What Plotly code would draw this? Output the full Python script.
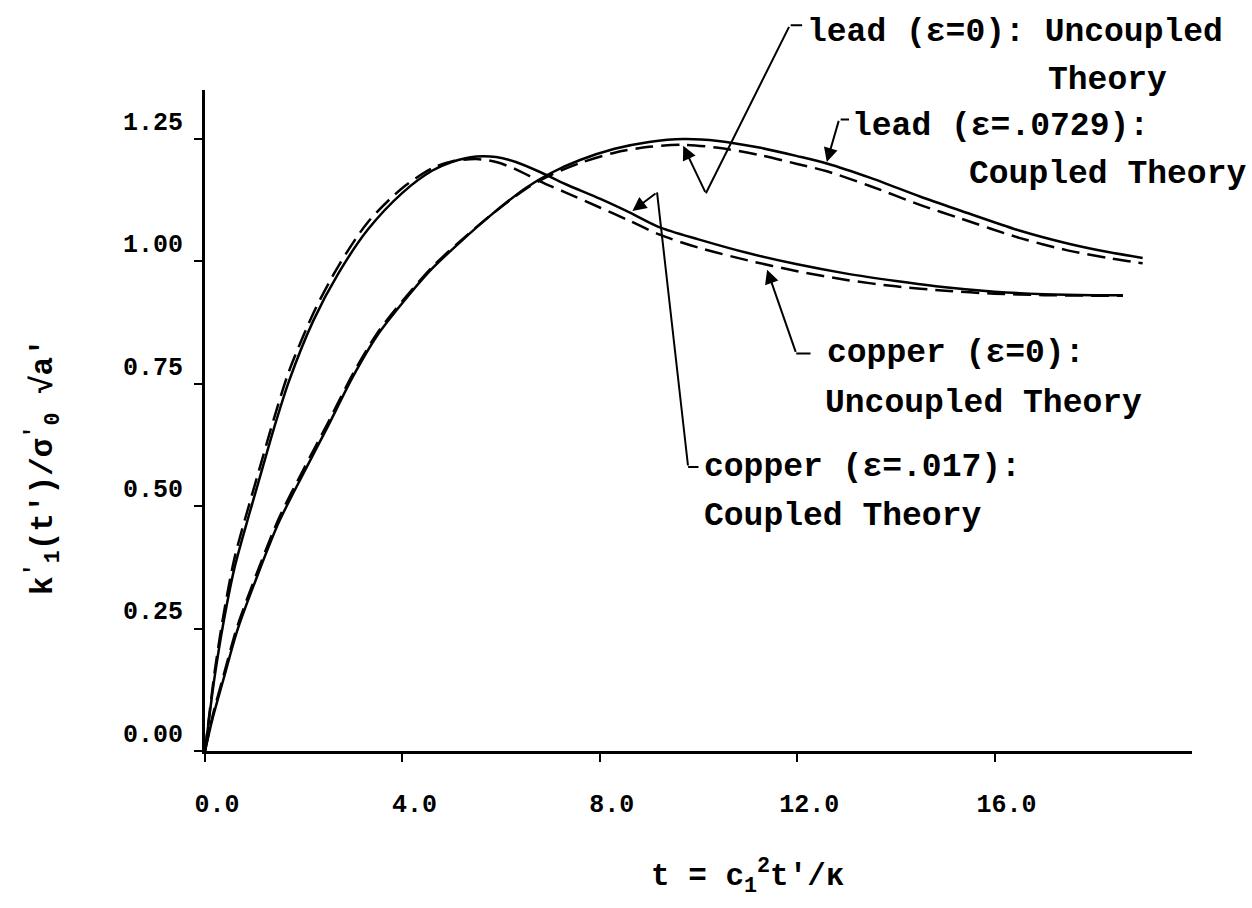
import plotly.graph_objects as go

# Dimensionless time t = c1^2 t'/kappa
copper_t = [0, 0.1, 0.2, 0.37, 0.6, 0.9, 1.1, 1.4, 1.7, 2.2, 2.7, 3.3, 4.0, 4.6,
            5.0, 5.5, 5.9, 6.3, 6.8, 7.3, 8.0, 8.6, 9.2, 10, 11, 12, 13, 14, 15,
            16, 17, 18, 18.6]
# copper, coupled theory (eps = .017)
copper_coupled = [0, 0.08, 0.155, 0.26, 0.375, 0.485, 0.555, 0.66, 0.755, 0.88,
                  0.975, 1.065, 1.14, 1.185, 1.203, 1.214, 1.213, 1.203, 1.182,
                  1.158, 1.128, 1.10, 1.07, 1.045, 1.017, 0.994, 0.975, 0.96,
                  0.947, 0.938, 0.933, 0.931, 0.931]
# copper, uncoupled theory (eps = 0)
copper_uncoupled = [0, 0.085, 0.165, 0.275, 0.395, 0.505, 0.575, 0.68, 0.775,
                    0.895, 0.99, 1.08, 1.15, 1.19, 1.204, 1.209, 1.203, 1.188,
                    1.163, 1.141, 1.11, 1.083, 1.055, 1.028, 1.002, 0.98, 0.962,
                    0.949, 0.94, 0.934, 0.931, 0.93, 0.93]

lead_t = [0, 0.15, 0.37, 0.65, 1.05, 1.5, 2.0, 2.5, 3.0, 3.5, 4.0, 4.6, 5.2, 5.8,
          6.5, 7.0, 7.6, 8.3, 9.0, 9.7, 10.4, 11.2, 12.0, 12.6, 13.5, 14.5, 15.3,
          16.5, 17.5, 18.3, 19.0]
# lead, coupled theory (eps = .0729)
lead_coupled = [0, 0.065, 0.145, 0.245, 0.355, 0.468, 0.568, 0.665, 0.765, 0.85,
                0.915, 0.985, 1.042, 1.095, 1.15, 1.18, 1.207, 1.23, 1.244, 1.25,
                1.246, 1.233, 1.215, 1.2, 1.17, 1.132, 1.104, 1.063, 1.036, 1.019,
                1.007]
# lead, uncoupled theory (eps = 0)
lead_uncoupled = [0, 0.07, 0.152, 0.253, 0.363, 0.476, 0.576, 0.672, 0.771, 0.855,
                  0.919, 0.988, 1.044, 1.095, 1.148, 1.176, 1.201, 1.222, 1.234,
                  1.238, 1.232, 1.218, 1.199, 1.184, 1.153, 1.115, 1.088, 1.048,
                  1.022, 1.007, 0.996]

x_tickvals = [0, 4, 8, 12, 16]
x_ticktext = ["0.0", "4.0", "8.0", "12.0", "16.0"]
y_tickvals = [0, 0.25, 0.5, 0.75, 1.0, 1.25]
y_ticktext = ["0.00", "0.25", "0.50", "0.75", "1.00", "1.25"]

Y_MAX = 1.35
MONO = "Liberation Mono, DejaVu Sans Mono, monospace"
INK = "#000000"
LW = 2.5
DASH = "18px,8px"

fig = go.Figure()
series = [
    (copper_t, copper_coupled, "solid", "copper (ε=.017): Coupled Theory"),
    (copper_t, copper_uncoupled, DASH, "copper (ε=0): Uncoupled Theory"),
    (lead_t, lead_coupled, "solid", "lead (ε=.0729): Coupled Theory"),
    (lead_t, lead_uncoupled, DASH, "lead (ε=0): Uncoupled Theory"),
]
for xs, ys, dash, name in series:
    fig.add_trace(go.Scatter(
        x=xs, y=ys, mode="lines", name=name,
        line=dict(color=INK, width=LW, dash=dash, shape="spline", smoothing=0.8),
        showlegend=False, hoverinfo="skip",
    ))


def y_ref(v):
    """Values above the axis range are placed in paper units so they still show."""
    if v > Y_MAX:
        return v / Y_MAX, "paper"
    return v, "y"


# Curve labels: (text, left-edge t, centre value)
labels = [
    ("lead (ε=0): Uncoupled", 12.15, 1.467),
    ("Theory", 17.04, 1.369),
    ("lead (ε=.0729):", 13.06, 1.276),
    ("Coupled Theory", 15.44, 1.178),
    ("copper (ε=0):", 12.56, 0.812),
    ("Uncoupled Theory", 12.52, 0.710),
    ("copper (ε=.017):", 10.07, 0.578),
    ("Coupled Theory", 10.07, 0.478),
]
annotations = []
for text, tx, ty in labels:
    yy, yr = y_ref(ty)
    annotations.append(dict(
        x=tx, y=yy, xref="x", yref=yr, text=text, showarrow=False,
        xanchor="left", yanchor="middle",
        font=dict(family=MONO, size=33, color=INK, weight="bold"),
    ))

ARROW = dict(showarrow=True, arrowsize=1.4, arrowwidth=2, arrowcolor=INK,
             standoff=0, startstandoff=0, text="")

# short hook in front of "lead (ε=0)" (pixel tail, above the axis range)
hy, hr = y_ref(1.482)
annotations.append(dict(x=12.10, y=hy, xref="x", yref=hr, ax=-13, ay=0,
                        axref="pixel", ayref="pixel", arrowhead=0, **ARROW))

# Leader lines: (tail t, tail value, head t, head value, with arrowhead)
leaders = [
    # lead, uncoupled
    (11.85, 1.482, 10.15, 1.139, False),
    (10.15, 1.139, 9.69, 1.236, True),
    # lead, coupled
    (12.85, 1.290, 13.05, 1.290, False),
    (12.85, 1.290, 12.60, 1.203, True),
    # copper, uncoupled
    (12.30, 0.812, 11.98, 0.812, False),
    (11.98, 0.812, 11.39, 0.983, True),
    # copper, coupled
    (10.03, 0.580, 9.79, 0.580, False),
    (9.79, 0.580, 9.16, 1.141, False),
    (9.16, 1.141, 8.66, 1.103, True),
]
for ax_, ay_, hx, hy, head in leaders:
    annotations.append(dict(
        x=hx, y=hy, ax=ax_, ay=ay_, xref="x", yref="y", axref="x", ayref="y",
        arrowhead=2 if head else 0, **ARROW,
    ))

# Axis titles
annotations.append(dict(
    x=0.55, y=-0.19, xref="paper", yref="paper", showarrow=False,
    text="t = c<sub>1</sub><sup>2</sup>t'/κ", xanchor="center", yanchor="middle",
    font=dict(family=MONO, size=31, color=INK, weight="bold"),
))
annotations.append(dict(
    x=-0.163, y=0.43, xref="paper", yref="paper", showarrow=False,
    text="k<sup>'</sup><sub>1</sub>(t')/σ<sup>'</sup><sub>0</sub> √a'",
    textangle=-90, xanchor="center", yanchor="middle",
    font=dict(family=MONO, size=31, color=INK, weight="bold"),
))

fig.update_layout(
    width=1252, height=908,
    margin=dict(l=205, r=60, t=90, b=157),
    paper_bgcolor="white", plot_bgcolor="white",
    annotations=annotations,
    xaxis=dict(
        range=[0, 20], showgrid=False, zeroline=False,
        showline=True, linecolor=INK, linewidth=3,
        ticks="outside", ticklen=8, tickwidth=2, tickcolor=INK,
        tickvals=x_tickvals, ticktext=x_ticktext,
        ticklabelshift=12, ticklabelstandoff=20,
        tickfont=dict(family=MONO, size=25, color=INK, weight="bold"),
    ),
    yaxis=dict(
        range=[0, Y_MAX], showgrid=False, zeroline=False,
        showline=True, linecolor=INK, linewidth=3,
        ticks="outside", ticklen=8, tickwidth=2, tickcolor=INK,
        tickvals=y_tickvals, ticktext=y_ticktext,
        ticklabelshift=-18, ticklabelstandoff=6,
        tickfont=dict(family=MONO, size=25, color=INK, weight="bold"),
    ),
)

fig.write_html("out.html")
